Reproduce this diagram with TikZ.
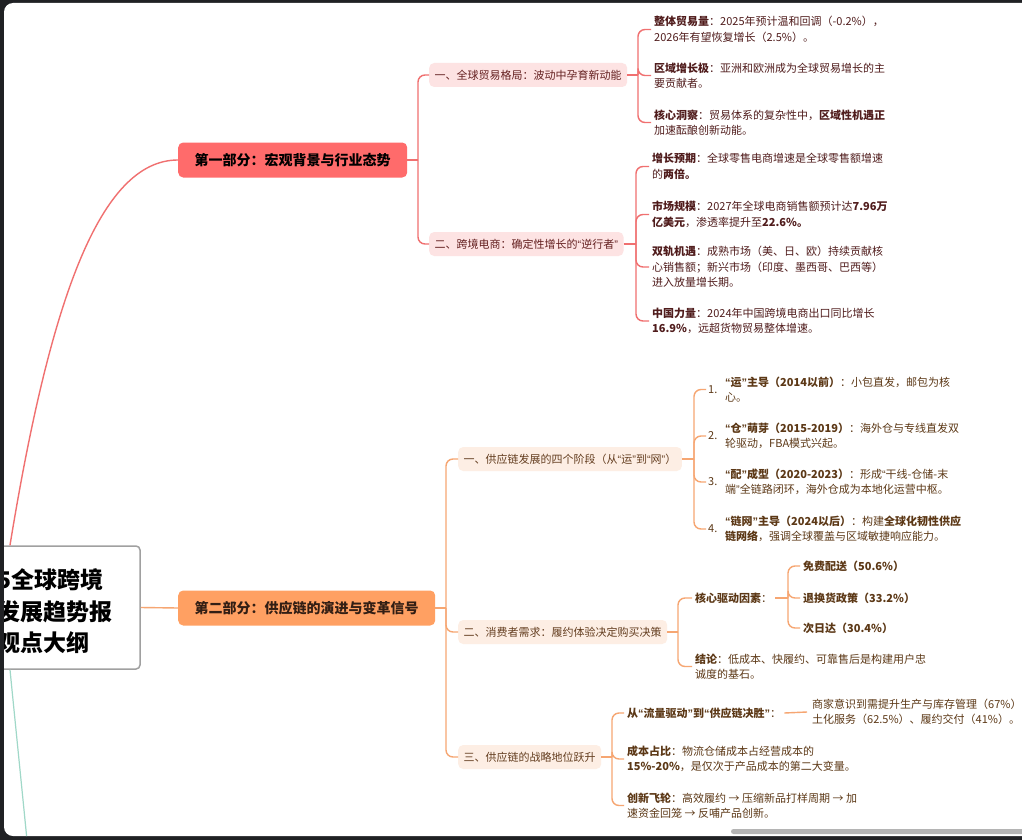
\documentclass[tikz,border=0pt]{standalone}
\usepackage{fontspec}
\setmainfont{Noto Sans CJK SC}
\newfontfamily\qfont{Liberation Sans}
\newcommand{\myoq}{{\qfont “}}
\newcommand{\mycq}{{\qfont ”}}
\definecolor{framedark}{RGB}{32,33,36}
\definecolor{redl}{RGB}{240,112,112}
\definecolor{redfill}{RGB}{255,107,107}
\definecolor{pinkfill}{RGB}{253,227,227}
\definecolor{orl}{RGB}{246,166,114}
\definecolor{orfill}{RGB}{255,160,98}
\definecolor{peachfill}{RGB}{253,238,228}
\definecolor{subAtext}{RGB}{100,32,32}
\definecolor{subBtext}{RGB}{100,62,32}
\definecolor{leafAtext}{RGB}{80,28,28}
\definecolor{leafBtext}{RGB}{92,56,22}
\definecolor{tealline}{RGB}{160,216,200}
\definecolor{rootline}{RGB}{160,160,160}
\definecolor{scroll}{RGB}{180,180,180}
\begin{document}
\begin{tikzpicture}[x=1pt,y=-1pt,
  redline/.style={draw=redl, line width=1.4pt},
  orline/.style={draw=orl, line width=1.4pt},
  partA/.style={fill=redfill, rounded corners=5pt, minimum height=35pt, inner xsep=16.5pt, inner ysep=0pt, anchor=west, font=\fontsize{14}{16}\selectfont\bfseries, text=black},
  partB/.style={partA, fill=orfill, text={rgb,255:red,50;green,30;blue,20}},
  subA/.style={fill=pinkfill, rounded corners=5pt, minimum height=24pt, inner xsep=5.5pt, inner ysep=0pt, anchor=west, font=\fontsize{11}{13}\selectfont, text=subAtext},
  subB/.style={subA, fill=peachfill, text=subBtext},
  leafA/.style={anchor=west, inner xsep=3pt, inner ysep=0pt, align=left, font=\fontsize{11}{15.5}\selectfont, text=leafAtext},
  leafB/.style={leafA, text=leafBtext},
  numlbl/.style={anchor=west, inner xsep=2pt, inner ysep=0pt, font=\fontsize{11}{13}\selectfont, text=leafBtext},
  rootbox/.style={draw=rootline, line width=1.5pt, fill=white, rounded corners=4pt, minimum width=260pt, minimum height=123pt, inner sep=0pt},
  roottext/.style={anchor=west, inner sep=0pt, align=left, font=\fontsize{23}{31.5}\selectfont\bfseries, text=black}
]
\useasboundingbox (0,0) rectangle (1022,840);
\fill[framedark] (0,0) rectangle (1022,840);
\begin{scope}
\clip[rounded corners=9pt] (4,3) rectangle (1040,836);
\fill[white] (0,0) rectangle (1022,840);

% root
\node[rootbox] (root) at (10,607.5) {};
\node[roottext] (roottxt) at (-3,611.5) {5全球跨境\\发展趋势报\\观点大纲};
\coordinate (third) at (27,840);
\draw[draw=tealline, line width=1.2pt] (root.south) -- (third);

% part 1
\node[partA] (p1) at (178,160) {第一部分：宏观背景与行业态势};
\draw[redline] (root.north) .. controls (50,300) and (100,160) .. (p1.west);
\coordinate (j1) at (418,160);
\draw[redline] (p1.east) -- (j1);
\node[subA] (c11) at (429,75) {一、全球贸易格局：波动中孕育新动能};
\node[subA] (c12) at (429,244) {二、跨境电商：确定性增长的\myoq 逆行者\mycq};
\draw[redline, rounded corners=7pt] (j1) |- (c11.west);
\draw[redline, rounded corners=7pt] (j1) |- (c12.west);

\coordinate (j11) at (638,75);
\draw[redline] (c11.east) -- (j11);
\node[leafA] (l111) at (651,29.5) {\textbf{整体贸易量}：2025年预计温和回调（-0.2\%），\\2026年有望恢复增长（2.5\%）。};
\node[leafA] (l112) at (651,75.5) {\textbf{区域增长极}：亚洲和欧洲成为全球贸易增长的主\\要贡献者。};
\node[leafA] (l113) at (651,122.5) {\textbf{核心洞察}：贸易体系的复杂性中，\textbf{区域性机遇正}\\加速酝酿创新动能。};
\foreach \n in {l111,l112,l113} \draw[redline, rounded corners=7pt] (j11) |- (\n.west);

\coordinate (j12) at (636,244);
\draw[redline] (c12.east) -- (j12);
\node[leafA] (l121) at (649,166.5) {\textbf{增长预期}：全球零售电商增速是全球零售额增速\\的\textbf{两倍。}};
\node[leafA] (l122) at (649,214.5) {\textbf{市场规模}：2027年全球电商销售额预计达\textbf{7.96万}\\\textbf{亿美元}，渗透率提升至\textbf{22.6\%。}};
\node[leafA] (l123) at (649,267) {\textbf{双轨机遇}：成熟市场（美、日、欧）持续贡献核\\心销售额；新兴市场（印度、墨西哥、巴西等）\\进入放量增长期。};
\node[leafA] (l124) at (649,321) {\textbf{中国力量}：2024年中国跨境电商出口同比增长\\\textbf{16.9\%}，远超货物贸易整体增速。};
\foreach \n in {l121,l122,l123,l124} \draw[redline, rounded corners=7pt] (j12) |- (\n.west);

% part 2
\node[partB] (p2) at (178,608) {第二部分：供应链的演进与变革信号};
\draw[orline] (root.east) -- (p2.west);
\coordinate (j2) at (446,608);
\draw[orline] (p2.east) -- (j2);
\node[subB] (c21) at (458,459) {一、供应链发展的四个阶段（从\myoq 运\mycq 到\myoq 网\mycq）};
\node[subB] (c22) at (458,632) {二、消费者需求：履约体验决定购买决策};
\node[subB] (c23) at (458,757) {三、供应链的战略地位跃升};
\foreach \n in {c21,c22,c23} \draw[orline, rounded corners=7pt] (j2) |- (\n.west);

% stages
\coordinate (j21) at (694,459);
\draw[orline] (c21.east) -- (j21);
\node[numlbl] (s1) at (706,389.5) {1.};
\node[numlbl] (s2) at (706,436) {2.};
\node[numlbl] (s3) at (706,482) {3.};
\node[numlbl] (s4) at (706,529) {4.};
\foreach \n in {s1,s2,s3,s4} \draw[orline, rounded corners=7pt] (j21) |- (\n.west);
\node[leafB] (t1) at (722,389.5) {\textbf{\myoq 运\mycq 主导（2014以前）}：小包直发，邮包为核\\心。};
\node[leafB] (t2) at (722,436) {\textbf{\myoq 仓\mycq 萌芽（2015-2019）}：海外仓与专线直发双\\轮驱动，FBA模式兴起。};
\node[leafB] (t3) at (722,482) {\textbf{\myoq 配\mycq 成型（2020-2023）}：形成\myoq 干线-仓储-末\\端\mycq 全链路闭环，海外仓成为本地化运营中枢。};
\node[leafB] (t4) at (722,529) {\textbf{\myoq 链网\mycq 主导（2024以后）}：构建\textbf{全球化韧性供应}\\\textbf{链网络}，强调全球覆盖与区域敏捷响应能力。};

% consumer demand
\coordinate (j22) at (678,632);
\draw[orline] (c22.east) -- (j22);
\node[leafB] (k1) at (692,598) {\textbf{核心驱动因素}：};
\node[leafB] (k2) at (692,666.5) {\textbf{结论}：低成本、快履约、可靠售后是构建用户忠\\诚度的基石。};
\foreach \n in {k1,k2} \draw[orline, rounded corners=7pt] (j22) |- (\n.west);
\coordinate (j221) at (788,598);
\draw[orline] (k1.east) -- (j221);
\node[leafB] (m1) at (800,566) {\textbf{免费配送（50.6\%）}};
\node[leafB] (m2) at (800,598) {\textbf{退换货政策（33.2\%）}};
\node[leafB] (m3) at (800,628) {\textbf{次日达（30.4\%）}};
\foreach \n in {m1,m2,m3} \draw[orline, rounded corners=7pt] (j221) |- (\n.west);

% strategic position
\coordinate (j23) at (612,757);
\draw[orline] (c23.east) -- (j23);
\node[leafB] (n1) at (624,713) {\textbf{从\myoq 流量驱动\mycq 到\myoq 供应链决胜\mycq}：};
\node[leafB] (n2) at (624,759) {\textbf{成本占比}：物流仓储成本占经营成本的\\\textbf{15\%-20\%}，是仅次于产品成本的第二大变量。};
\node[leafB] (n3) at (624,805.5) {\textbf{创新飞轮}：高效履约 → 压缩新品打样周期 → 加\\速资金回笼 → 反哺产品创新。};
\foreach \n in {n1,n2,n3} \draw[orline, rounded corners=7pt] (j23) |- (\n.west);
\node[leafB, inner xsep=5pt] (n1a) at (807,712) {商家意识到需提升生产与库存管理（67\%）\\土化服务（62.5\%）、履约交付（41\%）。};
\draw[orline] (n1.east) -- (n1a.west);

% scrollbar
\fill[scroll, rounded corners=2.5pt] (731,829) rectangle (1030,834);
\end{scope}
\end{tikzpicture}
\end{document}
